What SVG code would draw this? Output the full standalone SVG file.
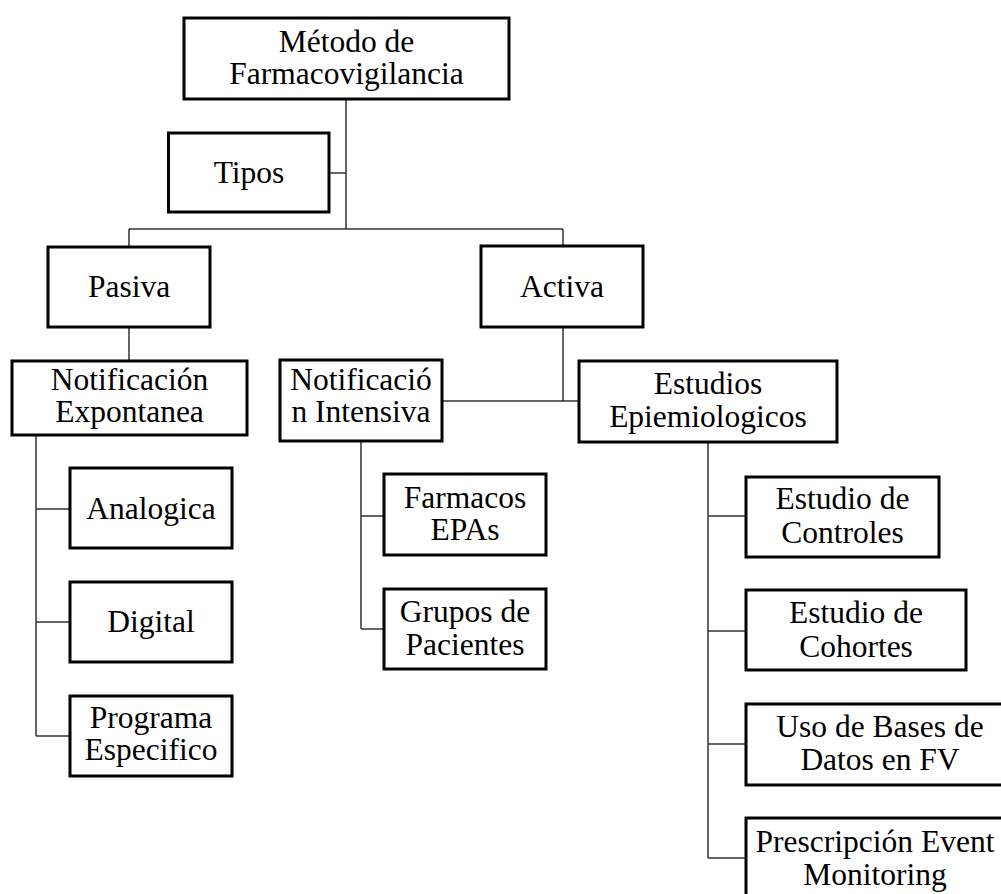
<svg xmlns="http://www.w3.org/2000/svg" width="1001" height="894" viewBox="0 0 1001 894">
<style>
.box{fill:#fff;stroke:#000;stroke-width:3}
.t{font-family:"Liberation Serif","Times New Roman",serif;font-size:31.5px;fill:#000;text-anchor:middle}
.c{fill:none;stroke:#333;stroke-width:1.5}
</style>
<rect width="1001" height="894" fill="#fff"/>
<g id="connectors">
<path class="c" d="M346,99 V229 M329,173 H346 M129,229 H563 M129,229 V247 M563,229 V246 M129,327 V361 M563,327 V401 M442,401 H579"/>
<path class="c" d="M36,435 V736 M36,509 H70 M36,622 H70 M36,736 H70"/>
<path class="c" d="M361,441 V629 M361,516 H384 M361,629 H384"/>
<path class="c" d="M708,442 V858 M708,516 H746 M708,631 H746 M708,744 H746 M708,858 H746"/>
</g>
<g id="metodo"><rect class="box" x="184" y="18" width="325" height="81"/><text class="t" x="346.5" y="51.5">Método de</text><text class="t" x="346.5" y="84">Farmacovigilancia</text></g>
<g id="tipos"><rect class="box" x="168.5" y="133" width="160.5" height="79"/><text class="t" x="249" y="183">Tipos</text></g>
<g id="pasiva"><rect class="box" x="48" y="247" width="162" height="80"/><text class="t" x="129" y="297">Pasiva</text></g>
<g id="activa"><rect class="box" x="481" y="246" width="162" height="81"/><text class="t" x="562" y="297">Activa</text></g>
<g id="notif-exp"><rect class="box" x="12" y="361" width="235" height="74"/><text class="t" x="129.5" y="390">Notificación</text><text class="t" x="129.5" y="422">Expontanea</text></g>
<g id="notif-int"><rect class="box" x="280" y="360" width="162" height="81"/><text class="t" x="361" y="390">Notificació</text><text class="t" x="361" y="422">n Intensiva</text></g>
<g id="estudios"><rect class="box" x="579" y="361" width="258" height="81"/><text class="t" x="708" y="394">Estudios</text><text class="t" x="708" y="427">Epiemiologicos</text></g>
<g id="analogica"><rect class="box" x="70" y="468" width="162" height="80"/><text class="t" x="151" y="518.5">Analogica</text></g>
<g id="digital"><rect class="box" x="70" y="582" width="162" height="80"/><text class="t" x="151" y="632">Digital</text></g>
<g id="programa"><rect class="box" x="70" y="696" width="162" height="80"/><text class="t" x="151" y="728">Programa</text><text class="t" x="151" y="760">Especifico</text></g>
<g id="farmacos"><rect class="box" x="384" y="474" width="162" height="81"/><text class="t" x="465" y="508">Farmacos</text><text class="t" x="465" y="540">EPAs</text></g>
<g id="grupos"><rect class="box" x="384" y="589" width="162" height="80"/><text class="t" x="465" y="622">Grupos de</text><text class="t" x="465" y="655">Pacientes</text></g>
<g id="controles"><rect class="box" x="746" y="477" width="193" height="80"/><text class="t" x="842.5" y="509">Estudio de</text><text class="t" x="842.5" y="543">Controles</text></g>
<g id="cohortes"><rect class="box" x="746" y="590" width="220" height="80"/><text class="t" x="856" y="623">Estudio de</text><text class="t" x="856" y="657">Cohortes</text></g>
<g id="bases"><rect class="box" x="746" y="704" width="268" height="81"/><text class="t" x="880" y="737">Uso de Bases de</text><text class="t" x="880" y="770">Datos en FV</text></g>
<g id="prescripcion"><rect class="box" x="746" y="818" width="268" height="90"/><text class="t" x="875" y="852">Prescripción Event</text><text class="t" x="875" y="885">Monitoring</text></g>
</svg>
